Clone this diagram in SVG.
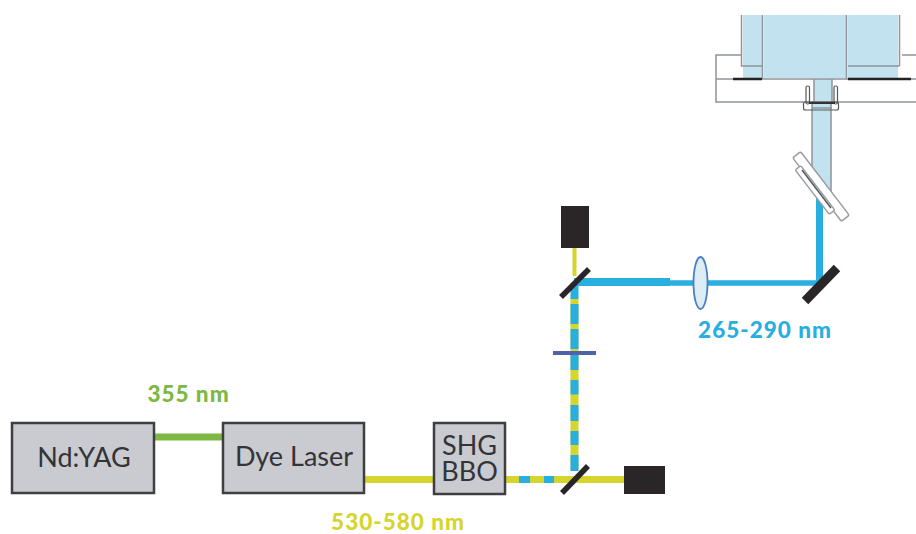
<svg xmlns="http://www.w3.org/2000/svg" width="916" height="534" viewBox="0 0 916 534">
<style>
.box{fill:#c9cbd0;stroke:#3f3f43;stroke-width:2.5}
.t{font-family:"Lato","Open Sans","Liberation Sans",sans-serif;fill:#333338;text-anchor:middle;font-size:27px}
.l{font-family:"Lato","Open Sans","Liberation Sans",sans-serif;font-weight:900;font-size:22.500px;letter-spacing:1px;text-anchor:middle}
.y{stroke:#d6d52e;fill:none}
.b{stroke:#29aee0;fill:none}
.blk{stroke:#2a2627;fill:none}
.dump{fill:#2a2627}
.w{fill:#c3e2ef}
.g{stroke:#8e9499;fill:none;stroke-width:1.5}
.d{stroke:#55585c;fill:none;stroke-width:1.2}
.opt{fill:#fff;stroke:#9a9da0;stroke-width:1.5}
</style>
<g id="connectors">
<path d="M154 437H223" stroke="#7cb843" stroke-width="7" fill="none"/>
<path class="y" d="M364 479.500H434" stroke-width="7"/>
<path class="y" d="M505 479.500H624" stroke-width="7"/>
<path class="b" d="M519 479.500H530M544 479.500H554" stroke-width="7"/>
<path class="y" d="M574.500 298V470" stroke-width="8"/>
<path class="b" d="M574.500 283V299M574.500 304V324M574.500 329V349M574.500 352V370M574.500 380V394.500M574.500 405V421M574.500 431V445M574.500 455V471" stroke-width="8"/>
<path class="y" d="M574.500 248V276" stroke-width="4"/>
<path class="b" d="M574 282H670" stroke-width="8"/>
<path class="b" d="M670 283H820" stroke-width="5.500"/>
<path class="b" d="M819.500 286V190" stroke-width="7"/>
</g>
<g id="nd-yag"><rect class="box" x="12" y="423" width="142" height="70"/><text class="t" x="84" y="467">Nd:YAG</text></g>
<g id="dye-laser"><rect class="box" x="223" y="423" width="141" height="70"/><text class="t" x="294" y="466">Dye Laser</text></g>
<g id="shg-bbo"><rect class="box" x="434" y="423" width="71" height="71"/><text class="t"><tspan x="469.500" y="455">SHG</tspan><tspan x="469.500" y="481">BBO</tspan></text></g>
<g id="beam-dump-bottom"><rect class="dump" x="624" y="466" width="41" height="28"/></g>
<g id="beam-dump-top"><rect class="dump" x="561" y="206" width="28" height="42"/></g>
<g id="mirror-bottom"><path class="blk" d="M562 493L588 466" stroke-width="5.500"/></g>
<g id="mirror-top"><path class="blk" d="M561 297L589 269" stroke-width="5.500"/></g>
<g id="mirror-right"><path class="blk" d="M805 301L837 268" stroke-width="9"/></g>
<g id="waveplate"><path d="M553 353H596" stroke="#4f62a8" stroke-width="4" fill="none"/></g>
<g id="lens"><ellipse cx="700.500" cy="283" rx="7" ry="26" fill="#dcedf5" stroke="#4a7fc0" stroke-width="1.800"/></g>
<g id="chamber">
<rect class="w" x="743" y="15" width="19" height="63"/>
<rect class="w" x="764" y="15" width="82" height="63"/>
<rect class="w" x="848" y="15" width="50" height="63"/>
<path class="w" d="M814 79H832V102H831V207L812 184V102H814Z"/>
<path class="g" d="M741.500 15V66H762M762.500 15V79M846.500 15V79M848 66H899.500M899.500 15V66"/>
<path class="g" d="M742 55H716V102H916M902 55H916M716 79H916"/>
<path d="M733 79H762M848 79H911" stroke="#222" stroke-width="2.500" fill="none"/>
<path class="g" d="M812 102V184M831 102V200M814 79V102M832 79V102"/>
<rect class="d" x="806" y="86" width="3.500" height="18" rx="1.500"/>
<rect class="d" x="834" y="86" width="3.500" height="18" rx="1.500"/>
<rect class="d" x="803.500" y="102" width="35" height="8" rx="2"/>
<path d="M809 103H835" stroke="#333" stroke-width="2" fill="none"/>
<path class="g" d="M812 108H832"/>
<rect class="opt" x="-5" y="-40" width="10" height="80" rx="2" transform="translate(821 186.500) rotate(-37.500)"/>
<rect class="opt" x="-3.500" y="-28" width="7" height="56" rx="1.500" transform="translate(815 190) rotate(-37.500)"/>
<path d="M802 170L831 208" stroke="#55585c" stroke-width="1.500" fill="none"/>
</g>
<text class="l" x="188.500" y="402" fill="#7cb843">355 nm</text>
<text class="l" x="398" y="530" fill="#d6d52e">530-580 nm</text>
<text class="l" x="765" y="338" fill="#29aee0">265-290 nm</text>
</svg>
